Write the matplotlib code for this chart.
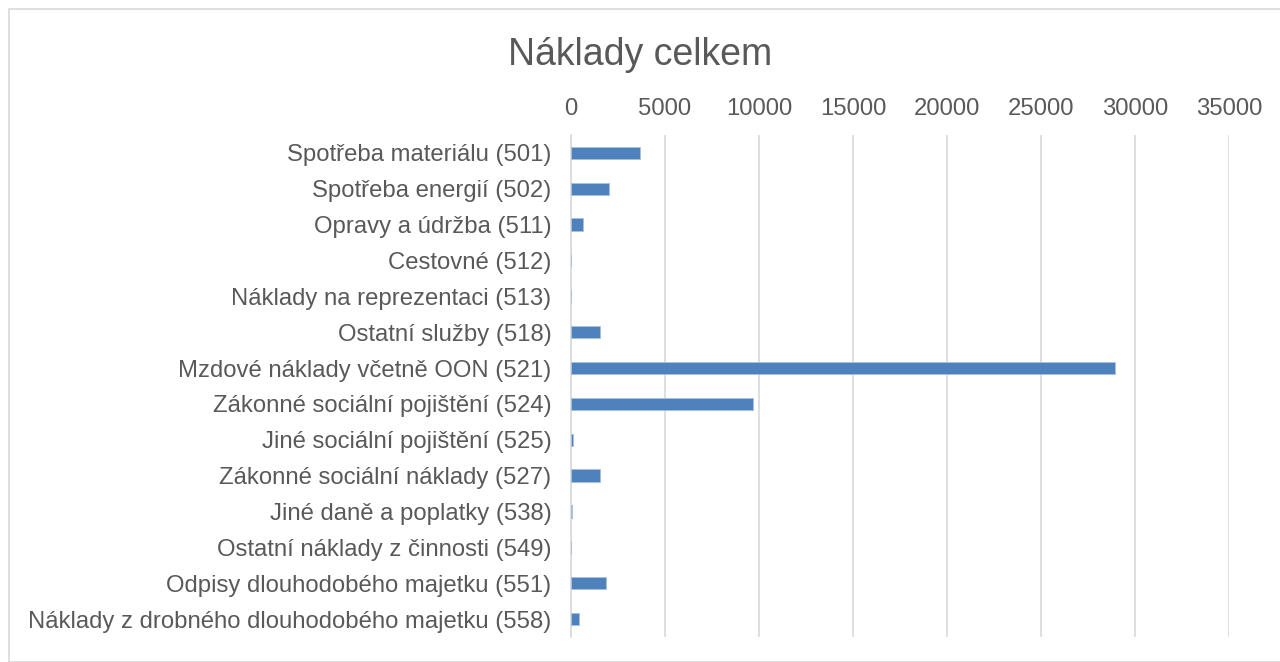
import numpy as np
import matplotlib
matplotlib.use("Agg")
import matplotlib.pyplot as plt
from matplotlib.patches import Rectangle

plt.rcParams['font.family'] = ['Liberation Sans', 'DejaVu Sans']

categories = ["Spotřeba materiálu (501)",
              "Spotřeba energií (502)",
              "Opravy a údržba (511)",
              "Cestovné (512)",
              "Náklady na reprezentaci (513)",
              "Ostatní služby (518)",
              "Mzdové náklady včetně OON (521)",
              "Zákonné sociální pojištění (524)",
              "Jiné sociální pojištění (525)",
              "Zákonné sociální náklady (527)",
              "Jiné daně a poplatky (538)",
              "Ostatní náklady z činnosti (549)",
              "Odpisy dlouhodobého majetku (551)",
              "Náklady z drobného dlouhodobého majetku (558)"]
values = [3665, 2010, 655, 0, 0, 1545, 28940, 9660, 100, 1520, 40, 25, 1880, 440]
ticks = [0, 5000, 10000, 15000, 20000, 25000, 30000, 35000]

text_col = '#595959'
bar_col = '#4f81bd'

fig = plt.figure(figsize=(12.8, 6.62), dpi=100)
fig.patches.append(Rectangle((9 / 1280, 0.0), 1.0, 1 - 9 / 662, transform=fig.transFigure,
                             fill=False, edgecolor='#d9d9d9', linewidth=1.2))

ax = fig.add_axes([571 / 1280, 1 - 637 / 662, (1229 - 571) / 1280, (637 - 135) / 662])
y = np.arange(len(categories))
ax.barh(y, values, height=0.35, color=bar_col, edgecolor='#a9c0e0', linewidth=0.6, zorder=3)
ax.set_ylim(len(categories) - 0.5, -0.5)
ax.set_xlim(0, 35000)
ax.set_yticks(y)
ax.set_yticklabels(categories, fontsize=17.2, color=text_col)
ax.set_xticks(ticks)
ax.set_xticklabels([str(t) for t in ticks], fontsize=17.2, color=text_col)
ax.xaxis.tick_top()
ax.tick_params(axis='both', length=0)
ax.tick_params(axis='x', pad=11)
ax.tick_params(axis='y', pad=14)
ax.grid(axis='x', color='#d9d9d9', linewidth=1.2, zorder=0)
for s in ['top', 'right', 'bottom']:
    ax.spines[s].set_visible(False)
ax.spines['left'].set_color('#d9d9d9')
ax.spines['left'].set_linewidth(1.2)

fig.text(0.5, 1 - 55 / 662, "Náklady celkem", ha='center', va='center', fontsize=27, color=text_col)

fig.savefig('out.png', dpi=100)
